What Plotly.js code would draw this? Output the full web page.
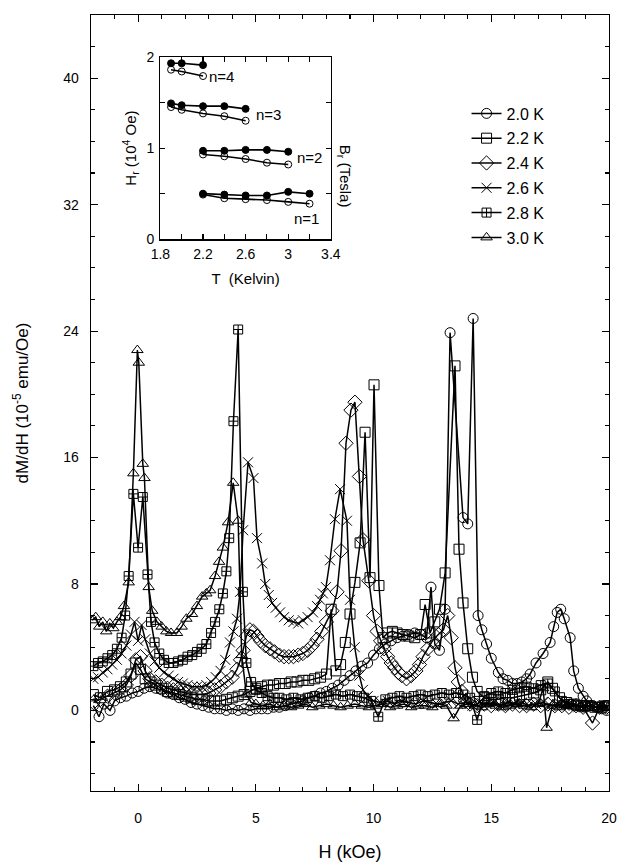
<!DOCTYPE html>
<html><head><meta charset="utf-8">
<script src="https://cdn.plot.ly/plotly-3.0.1.min.js"></script>
<style>body{margin:0;background:#fff}#plot{width:619px;height:865px}</style>
</head><body><div id="plot"></div>
<script>
// ---- main panel data: [H (kOe), dM/dH (1e-5 emu/Oe)] ----
const labels = ['2.0 K','2.2 K','2.4 K','2.6 K','2.8 K','3.0 K'];
const s20 = [[-1.9,0.3],[-1.66,-0.4],[-1.45,0.4],[-1.19,0.0],[-1.0,0.6],[-0.75,0.8],[-0.5,0.9],[-0.25,1.1],
[0,1.2],[0.25,1.4],[0.5,1.5],[0.75,1.4],[1.0,1.3],[1.25,1.1],[1.5,1.0],[1.75,0.8],[2.0,0.7],[2.25,0.5],
[2.5,0.4],[2.75,0.3],[3.0,0.2],[3.25,0.1],[3.5,0.1],[3.75,0.0],[4.0,0.1],[4.25,0.0],[4.5,0.1],[4.75,0.0],
[5.0,0.1],[5.25,0.1],[5.5,0.1],[5.75,0.2],[6.0,0.2],[6.25,0.3],[6.5,0.4],[6.75,0.5],[7.0,0.6],[7.25,0.8],
[7.5,0.9],[7.75,1.1],[8.0,1.2],[8.25,1.4],[8.5,1.6],[8.75,1.9],[9.0,2.2],[9.25,2.5],[9.5,2.8],[9.75,3.0],
[10.0,3.5],[10.25,3.9],[10.5,4.2],[10.75,4.4],[11.0,4.6],[11.25,4.7],[11.5,4.8],[11.75,4.9],[12.0,4.8],[12.25,4.6],
[12.44,7.8],[12.6,4.2],[12.8,3.8],[13.04,6.4],[13.25,23.9],[13.8,12.2],[14.0,11.8],[14.23,24.8],[14.44,6.0],[14.6,5.1],
[14.8,4.2],[15.0,3.3],[15.3,2.4],[15.5,2.0],[15.7,1.9],[15.9,1.7],[16.1,1.7],[16.3,1.8],[16.5,2.0],[16.65,2.3],
[16.9,3.0],[17.2,3.6],[17.5,4.3],[17.65,5.3],[17.8,6.2],[17.95,6.4],[18.1,5.8],[18.35,4.6],[18.5,2.5],[18.7,1.4],
[18.9,0.9],[19.05,0.6],[19.3,0.3],[19.5,0.2],[19.7,0.1],[19.9,0.0]];
const s22 = [[-1.9,1.0],[-1.6,0.8],[-1.3,1.2],[-1.0,1.3],[-0.75,1.5],[-0.5,1.8],[-0.3,2.3],[-0.1,3.0],[0.1,2.6],
[0.3,2.0],[0.5,1.8],[0.75,1.6],[1.0,1.4],[1.25,1.2],[1.5,1.1],[1.75,1.0],[2.0,0.9],[2.25,0.8],[2.5,0.7],[2.75,0.7],
[3.0,0.6],[3.25,0.6],[3.5,0.6],[3.75,0.7],[4.0,0.8],[4.25,0.9],[4.5,1.0],[4.75,1.2],[5.0,1.4],[5.25,1.5],[5.5,1.6],
[5.75,1.6],[6.0,1.7],[6.25,1.7],[6.5,1.8],[6.75,1.8],[7.0,1.9],[7.25,1.9],[7.5,2.0],[7.75,2.1],[8.0,2.3],[8.2,6.4],
[8.4,2.5],[8.6,2.9],[8.8,4.3],[9.0,6.1],[9.21,8.1],[9.43,10.6],[9.64,17.6],[9.85,8.4],[10.02,20.6],[10.23,7.9],
[10.4,4.6],[10.6,4.9],[10.8,5.0],[11.0,4.9],[11.25,4.8],[11.5,4.7],[11.75,4.6],[12.0,4.8],[12.19,6.7],[12.4,4.9],
[12.6,5.6],[12.8,6.4],[13.04,8.7],[13.46,21.8],[13.63,10.2],[13.8,6.8],[14.0,3.9],[14.2,2.1],[14.4,1.2],[14.7,0.8],
[15.0,0.7],[15.3,0.7],[15.6,0.8],[15.9,0.8],[16.2,0.9],[16.5,1.0],[16.8,1.1],[17.1,1.3],[17.4,1.8],[17.6,1.4],
[17.9,0.8],[18.2,0.5],[18.5,0.4],[18.8,0.3],[19.1,0.3],[19.4,0.2],[19.7,0.2],[19.95,0.3]];
const s24 = [[-1.9,0.5],[-1.6,0.7],[-1.3,0.9],[-1.0,1.1],[-0.75,1.3],[-0.5,1.6],[-0.3,2.2],[-0.1,3.2],[0.1,3.4],
[0.3,2.5],[0.5,2.0],[0.75,1.8],[1.0,1.6],[1.25,1.4],[1.5,1.3],[1.75,1.2],[2.0,1.1],[2.25,1.0],[2.5,1.0],[2.75,1.0],
[3.0,1.1],[3.25,1.3],[3.5,1.5],[3.75,1.8],[4.0,2.1],[4.2,2.6],[4.35,3.2],[4.46,3.8],[4.6,4.7],[4.75,5.1],[4.9,5.0],
[5.05,4.7],[5.2,4.4],[5.4,4.1],[5.6,3.9],[5.8,3.7],[6.0,3.5],[6.2,3.4],[6.4,3.4],[6.6,3.4],[6.8,3.5],[7.0,3.6],
[7.2,3.8],[7.4,4.1],[7.6,4.5],[7.8,5.0],[8.0,5.6],[8.24,6.3],[8.45,7.5],[8.62,10.1],[8.83,16.9],[9.04,19.0],
[9.21,19.5],[9.4,14.8],[9.55,10.8],[9.8,8.2],[10.0,6.0],[10.15,5.0],[10.3,4.4],[10.45,3.9],[10.6,3.4],[10.75,3.0],
[10.9,2.7],[11.05,2.4],[11.2,2.2],[11.4,2.0],[11.6,2.2],[11.8,2.5],[11.95,2.9],[12.1,3.4],[12.3,3.9],[12.5,4.4],
[12.75,4.8],[12.97,5.1],[13.15,6.0],[13.3,4.6],[13.46,2.7],[13.6,1.8],[13.75,1.2],[13.9,0.6],[14.1,0.4],[14.4,0.3],
[14.7,0.4],[15.0,0.3],[15.3,0.4],[15.6,0.3],[15.9,0.4],[16.2,0.3],[16.5,0.3],[16.8,0.4],[17.1,0.3],[17.4,0.4],
[17.7,0.3],[18.0,0.3],[18.3,0.2],[18.6,0.3],[18.9,0.2],[19.3,-0.8],[19.6,0.2],[19.9,0.2]];
const s26 = [[-1.9,2.0],[-1.7,2.1],[-1.5,2.4],[-1.3,2.6],[-1.1,2.9],[-0.9,3.2],[-0.7,3.6],[-0.5,4.1],[-0.3,4.8],
[-0.15,5.6],[0,4.4],[0.15,5.4],[0.3,4.5],[0.5,3.6],[0.7,3.1],[0.9,2.7],[1.1,2.4],[1.3,2.2],[1.5,2.0],[1.7,1.8],
[1.9,1.7],[2.1,1.6],[2.3,1.5],[2.5,1.5],[2.7,1.5],[2.9,1.6],[3.1,1.8],[3.3,2.1],[3.5,2.5],[3.7,3.2],[3.9,4.3],
[4.05,5.0],[4.2,5.8],[4.33,7.5],[4.46,11.4],[4.67,15.7],[4.9,14.7],[5.05,10.9],[5.27,9.3],[5.4,8.0],[5.55,7.3],
[5.69,6.8],[5.85,6.5],[6.03,6.2],[6.2,5.9],[6.4,5.7],[6.6,5.6],[6.8,5.5],[7.0,5.7],[7.2,5.9],[7.43,6.2],[7.6,6.6],
[7.73,7.0],[7.85,7.4],[7.98,7.8],[8.15,9.5],[8.36,12.1],[8.58,14.0],[8.87,12.0],[9.0,7.0],[9.2,4.0],[9.4,2.2],
[9.55,1.3],[9.75,0.9],[10.0,0.6],[10.3,0.5],[10.6,0.6],[10.9,0.4],[11.2,0.6],[11.5,0.5],[11.8,0.4],[12.1,0.6],
[12.4,0.5],[12.7,0.4],[13.0,0.5],[13.3,0.6],[13.6,0.4],[13.9,0.5],[14.2,0.3],[14.5,0.5],[14.8,0.4],[15.1,0.5],
[15.4,0.3],[15.7,0.5],[16.0,0.4],[16.3,0.5],[16.6,0.3],[16.9,0.4],[17.2,0.5],[17.5,0.3],[17.8,0.4],[18.1,0.3],
[18.4,0.4],[18.7,0.2],[19.0,0.3],[19.3,0.2],[19.6,0.3],[19.9,0.2]];
const s28 = [[-1.9,2.8],[-1.7,3.0],[-1.5,3.1],[-1.3,3.3],[-1.1,3.5],[-0.9,3.9],[-0.7,4.6],[-0.55,6.0],[-0.4,8.5],
[-0.2,13.7],[0,10.3],[0.2,13.5],[0.4,8.6],[0.55,5.6],[0.7,4.3],[0.9,3.6],[1.1,3.2],[1.3,3.0],[1.5,3.0],[1.7,3.1],
[1.9,3.2],[2.1,3.4],[2.3,3.5],[2.5,3.7],[2.7,3.9],[2.9,4.2],[3.1,4.9],[3.27,5.6],[3.45,6.4],[3.6,7.4],[3.75,8.8],
[3.87,10.9],[4.05,18.3],[4.25,24.1],[4.45,7.5],[4.6,3.0],[4.8,1.8],[5.0,1.3],[5.25,1.1],[5.5,0.9],[5.75,0.8],
[6.0,0.8],[6.3,0.7],[6.6,0.8],[6.9,0.7],[7.2,0.8],[7.5,0.9],[7.8,0.8],[8.1,0.9],[8.4,1.0],[8.7,0.9],[9.0,1.0],
[9.3,0.9],[9.6,0.8],[9.9,0.6],[10.2,-0.4],[10.5,0.7],[10.8,0.8],[11.1,0.9],[11.4,0.8],[11.7,0.9],[12.0,1.0],
[12.3,0.9],[12.6,1.0],[12.9,1.1],[13.2,1.0],[13.5,1.1],[13.8,1.0],[14.1,0.8],[14.4,-0.6],[14.7,0.9],[15.0,1.1],
[15.3,1.2],[15.6,1.1],[15.9,1.3],[16.2,1.4],[16.5,1.5],[16.8,1.4],[17.1,1.6],[17.4,1.7],[17.7,1.2],[18.0,0.6],
[18.3,0.4],[18.6,0.3],[18.9,0.2],[19.2,0.3],[19.5,0.2],[19.8,0.3]];
const s30 = [[-1.95,5.7],[-1.8,5.9],[-1.65,5.3],[-1.5,5.6],[-1.35,5.0],[-1.2,5.5],[-1.05,5.2],[-0.9,5.6],[-0.75,5.9],
[-0.6,6.6],[-0.4,8.1],[-0.2,15.0],[-0.03,22.8],[0.03,22.0],[0.2,15.6],[0.27,14.7],[0.45,7.8],[0.6,6.3],[0.8,5.6],
[1.0,5.3],[1.2,5.0],[1.4,4.9],[1.65,4.9],[1.85,5.3],[2.05,5.8],[2.29,6.1],[2.5,6.6],[2.72,7.2],[2.9,7.4],[3.06,7.6],
[3.27,8.5],[3.44,9.4],[3.6,10.3],[3.82,11.9],[4.04,14.4],[4.25,12.0],[4.4,3.5],[4.6,1.0],[4.8,0.5],[5.0,0.4],
[5.3,0.3],[5.6,0.4],[5.9,0.2],[6.2,0.3],[6.5,0.2],[6.8,0.3],[7.1,0.4],[7.4,0.2],[7.7,0.3],[8.0,0.4],[8.3,0.3],
[8.6,0.2],[8.9,0.3],[9.2,0.4],[9.5,0.3],[9.8,0.2],[10.1,0.3],[10.4,0.4],[10.7,0.2],[11.0,0.3],[11.3,0.4],[11.6,0.2],
[11.9,0.3],[12.2,0.3],[12.5,0.2],[12.8,0.4],[13.1,0.3],[13.4,-0.5],[13.7,0.3],[14.0,0.4],[14.3,0.3],[14.6,0.2],
[14.9,0.4],[15.2,0.3],[15.5,0.2],[15.8,0.3],[16.1,0.4],[16.4,0.3],[16.7,0.2],[17.0,0.4],[17.2,1.4],[17.35,-1.1],
[17.6,0.3],[17.9,0.2],[18.2,0.3],[18.5,0.4],[18.8,0.2],[19.1,0.3],[19.4,0.2],[19.7,0.3],[19.95,0.2]];

// ---- inset data: T (K) vs resonance field H_r (10^4 Oe) ----
const insetT4 = [1.9,2.0,2.2];
const n4Filled = [1.93,1.93,1.91];
const n4Open = [1.86,1.84,1.79];
const insetT3 = [1.9,2.0,2.2,2.4,2.6];
const n3Filled = [1.49,1.47,1.46,1.46,1.43];
const n3Open = [1.45,1.42,1.38,1.35,1.30];
const insetT2 = [2.2,2.4,2.6,2.8,3.0];
const n2Filled = [0.97,0.97,0.98,0.98,0.96];
const n2Open = [0.93,0.91,0.88,0.84,0.82];
const insetT1 = [2.2,2.4,2.6,2.8,3.0,3.2];
const n1Filled = [0.50,0.49,0.48,0.48,0.52,0.50];
const n1Open = [0.49,0.45,0.44,0.43,0.41,0.39];

const series = [s20,s22,s24,s26,s28,s30];
const symbols = ['circle-open','square-open','diamond-open','x-thin-open','square-cross-open','triangle-up-open'];
const sizes = [10,10,11,10,9,10];

const traces = series.map((s,i)=>({
  x: s.map(p=>p[0]), y: s.map(p=>p[1]),
  type:'scatter', mode:'lines+markers', name: labels[i],
  legendgroup: 'g'+i,
  line:{color:'black', width:1.5},
  marker:{symbol:symbols[i], size:sizes[i], color:'black', line:{width:1, color:'black'}},
  xaxis:'x', yaxis:'y'
}));

function insetTrace(x,y,filled){
  return {x:x, y:y, type:'scatter', mode:'lines+markers', showlegend:false,
    xaxis:'x2', yaxis:'y2',
    line:{color:'black', width:1.6},
    marker:{symbol: filled?'circle':'circle-open', size:7, color:'black', line:{width:1, color:'black'}}};
}
traces.push(insetTrace(insetT4,n4Open,false), insetTrace(insetT4,n4Filled,true),
  insetTrace(insetT3,n3Open,false), insetTrace(insetT3,n3Filled,true),
  insetTrace(insetT2,n2Open,false), insetTrace(insetT2,n2Filled,true),
  insetTrace(insetT1,n1Open,false), insetTrace(insetT1,n1Filled,true));

const axBase = {showline:true, linecolor:'black', linewidth:1.3, mirror:'ticks', ticks:'inside',
  tickcolor:'black', tickwidth:1.1, showgrid:false, zeroline:false};

const layout = {
  width:619, height:865,
  margin:{l:91, r:10, t:15, b:74},
  paper_bgcolor:'white', plot_bgcolor:'white',
  font:{family:'Liberation Sans, Arial, Helvetica, sans-serif', color:'black'},
  showlegend:true,
  legend:{x:0.725, y:0.895, xanchor:'left', yanchor:'top', bgcolor:'rgba(0,0,0,0)',
    font:{size:16}, tracegroupgap:1, itemwidth:30},
  xaxis: Object.assign({}, axBase, {domain:[0,1], range:[-2,20], tick0:0, dtick:5, ticklen:7,
    minor:{dtick:1, ticklen:4, ticks:'inside', tickcolor:'black'},
    tickfont:{size:14}, ticklabelstandoff:14,
    title:{text:'H (kOe)', font:{size:18}, standoff:20}}),
  yaxis: Object.assign({}, axBase, {domain:[0,1], range:[-5.1,44], tick0:0, dtick:8, ticklen:7,
    minor:{dtick:2, ticklen:4, ticks:'inside', tickcolor:'black'},
    tickfont:{size:14}, ticklabelstandoff:8,
    title:{text:'dM/dH (10<sup>-5</sup> emu/Oe)', font:{size:17}, standoff:30}}),
  xaxis2: Object.assign({}, axBase, {domain:[0.134,0.463], anchor:'y2', range:[1.8,3.4], tick0:1.8, dtick:0.4, ticklen:5,
    minor:{dtick:0.2, ticklen:5, ticks:'inside', tickcolor:'black'},
    tickfont:{size:14}, ticklabelstandoff:2,
    title:{text:'T  (Kelvin)', font:{size:15}, standoff:12}}),
  yaxis2: Object.assign({}, axBase, {domain:[0.711,0.946], anchor:'x2', range:[0,2], tick0:0, dtick:1, ticklen:5,
    minor:{dtick:0.5, ticklen:5, ticks:'inside', tickcolor:'black'},
    tickfont:{size:14}, ticklabelstandoff:2,
    title:{text:'H<sub>r</sub> (10<sup>4</sup> Oe)', font:{size:15}, standoff:6}}),
  annotations:[
    {xref:'x2', yref:'y2', x:2.24, y:1.79, text:'n=4', showarrow:false, xanchor:'left', font:{size:15}},
    {xref:'x2', yref:'y2', x:2.68, y:1.37, text:'n=3', showarrow:false, xanchor:'left', font:{size:15}},
    {xref:'x2', yref:'y2', x:3.06, y:0.90, text:'n=2', showarrow:false, xanchor:'left', font:{size:15}},
    {xref:'x2', yref:'y2', x:3.04, y:0.23, text:'n=1', showarrow:false, xanchor:'left', font:{size:15}},
    {xref:'paper', yref:'paper', x:0.49, y:0.835, text:'B<sub>r</sub> (Tesla)', textangle:90, showarrow:false, font:{size:15}}
  ]
};

Plotly.newPlot('plot', traces, layout, {displayModeBar:false, staticPlot:true});
</script>
</body></html>
